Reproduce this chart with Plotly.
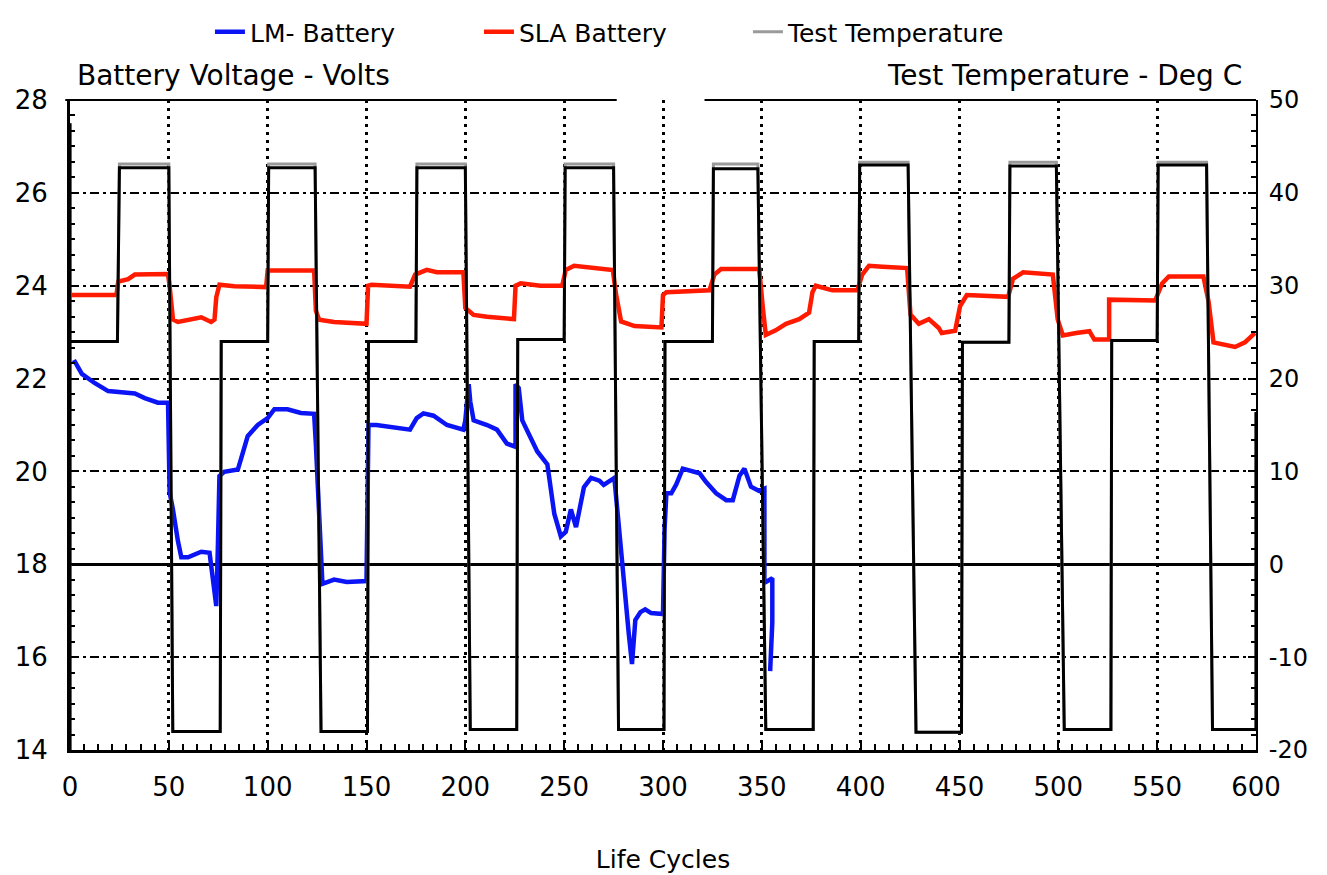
import plotly.graph_objects as go

# ---------------- data ----------------
lm_x = [2, 6, 12.6, 19.3, 32.8, 37.8, 44.5, 49.6, 50.4, 52, 54.6, 56.3, 59.7, 66.4, 70.6, 74, 74.8, 75.6,
        78, 84.9, 86.6, 89.9, 95, 100, 103.4, 110, 116.8, 123.5, 124.4, 126, 127.7, 133.6, 140, 150,
        151, 152.5, 155, 172, 175.4, 178.8, 183.9, 190.7, 199, 200, 201.7, 202.5, 204.2, 211, 216, 221,
        225.4, 225.4, 227, 228.8, 233, 236.4, 241.5, 245, 248.3, 250.8, 253.4, 256, 260, 263.6, 267.8,
        270, 275.4, 278, 280.6, 282.7, 284.3, 286, 288.6, 291, 294, 300, 300.8, 301.7, 304.2, 306.7,
        310, 318.5, 321.8, 326.9, 332, 335.3, 338.7, 341.2, 344.5, 348.7, 351.3, 351.3, 355.3, 355.3, 354.2]
lm_v = [22.4, 22.1, 21.9, 21.73, 21.68, 21.58, 21.48, 21.48, 19.55, 19.2, 18.5, 18.15, 18.15, 18.27, 18.25, 17.1, 18.35, 19.9,
        19.99, 20.04, 20.28, 20.76, 21.0, 21.15, 21.34, 21.34, 21.26, 21.24, 20.57, 18.93, 17.58, 17.67, 17.62, 17.64,
        21.0, 21.0, 21.0, 20.9, 21.15, 21.25, 21.2, 21.0, 20.9, 21.1, 21.88, 21.5, 21.1, 21.0, 20.9, 20.6,
        20.53, 21.88, 21.8, 21.1, 20.7, 20.43, 20.15, 19.09, 18.6, 18.7, 19.18, 18.8, 19.66, 19.86, 19.8,
        19.71, 19.86, 18.6, 17.45, 16.5, 15.85, 16.8, 16.97, 17.03, 16.95, 16.93, 18.76, 19.53, 19.53, 19.72,
        20.06, 19.96, 19.77, 19.53, 19.38, 19.38, 19.91, 20.06, 19.67, 19.58, 19.63, 17.6, 17.7, 16.75, 15.7]

sla_x = [0.8, 23.5, 24.4, 29.4, 32.8, 42.9, 49.6, 50.4, 52.1, 54.6, 59.7, 66.4, 71.4, 73.1, 74, 75.6, 83.2, 93.3, 99.2,
         100, 123.5, 124.4, 126, 133.6, 150, 150.8, 152.5, 172, 174.6, 180.5, 185.6, 199, 200, 204.2, 211, 224.6,
         225.4, 228, 238, 249, 250.8, 255, 265, 274.6, 276.3, 278.8, 285.6, 299.2, 300, 301.7, 323.5, 326, 329.4,
         348.7, 350.4, 352, 357, 362.2, 368.9, 373.9, 375.6, 377.3, 385.7, 398.3, 400.8, 404.2, 411, 423.5, 425.2,
         429.4, 434.5, 439.5, 441, 447.8, 450.3, 453.7, 474.6, 477.1, 482.2, 497.2, 499.7, 502.3, 509, 515.7, 518.2,
         525.7, 525.7, 530.7, 549, 552.5, 555.9, 573.4, 576, 578.5, 589.4, 594.4, 599.4]
sla_v = [23.8, 23.8, 24.09, 24.14, 24.24, 24.25, 24.25, 23.99, 23.27, 23.22, 23.27, 23.32, 23.22, 23.27, 23.75, 24.02, 23.99, 23.97, 23.97,
         24.33, 24.33, 23.46, 23.27, 23.22, 23.18, 24.0, 24.02, 23.98, 24.24, 24.34, 24.29, 24.29, 23.52, 23.37, 23.33, 23.28,
         24.0, 24.05, 24.0, 24.0, 24.34, 24.43, 24.39, 24.34, 23.8, 23.23, 23.13, 23.1, 23.8, 23.86, 23.9, 24.24, 24.36,
         24.36, 23.57, 22.94, 23.04, 23.18, 23.28, 23.42, 23.86, 24.0, 23.9, 23.9, 24.24, 24.43, 24.41, 24.38, 23.38,
         23.18, 23.28, 23.09, 22.98, 23.03, 23.56, 23.8, 23.76, 24.15, 24.29, 24.24, 23.27, 22.93, 22.98, 23.02, 22.84,
         22.84, 23.7, 23.7, 23.68, 24.05, 24.2, 24.2, 23.66, 22.78, 22.68, 22.78, 22.98]

# chamber temperature profile (deg C)
temp_x = [0, 0, 0, 24, 25, 50, 52, 76, 76.5, 100, 100.5, 124, 127, 150.5, 151, 175, 175.5, 200, 202.5, 226,
          226.5, 250, 250.5, 275, 277.5, 300.5, 301, 325, 325.5, 348, 352, 376, 376.5, 399, 399.5, 424, 428,
          451, 451.5, 475, 475.5, 499, 503, 526.6, 527, 550, 550.5, 575, 578, 600, 600]
temp_meas = [-20, 47.5, 24, 24, 42.7, 42.7, -18, -18, 24, 24, 42.7, 42.7, -18, -18, 24, 24, 42.7, 42.7, -17.8, -17.8,
             24.2, 24.2, 42.7, 42.7, -17.8, -17.8, 24, 24, 42.6, 42.6, -17.8, -17.8, 24, 24, 43, 43, -18.1,
             -18.1, 23.9, 23.9, 42.9, 42.9, -17.8, -17.8, 24.1, 24.1, 43, 43, -17.8, -17.8, 16.4]
temp_set = [-20, 47.5, 24, 24, 43.1, 43.1, -18, -18, 24, 24, 43.1, 43.1, -18, -18, 24, 24, 43.1, 43.1, -17.8, -17.8,
            24.2, 24.2, 43.1, 43.1, -17.8, -17.8, 24, 24, 43.1, 43.1, -17.8, -17.8, 24, 24, 43.3, 43.3, -18.1,
            -18.1, 23.9, 23.9, 43.3, 43.3, -17.8, -17.8, 24.1, 24.1, 43.3, 43.3, -17.8, -17.8, 16.4]

x_ticks = [0, 50, 100, 150, 200, 250, 300, 350, 400, 450, 500, 550, 600]
v_ticks = [14, 16, 18, 20, 22, 24, 26, 28]
t_ticks = [-20, -10, 0, 10, 20, 30, 40, 50]

FONT = "DejaVu Sans"

fig = go.Figure()
fig.add_trace(go.Scatter(x=temp_x, y=temp_set, yaxis="y2", mode="lines", name="Test Temperature",
                         line=dict(color="#9a9a9a", width=3), legendrank=3))
fig.add_trace(go.Scatter(x=temp_x, y=temp_meas, yaxis="y2", mode="lines", showlegend=False,
                         line=dict(color="black", width=3)))
fig.add_trace(go.Scatter(x=lm_x, y=lm_v, mode="lines", name="LM- Battery",
                         line=dict(color="#0a14f5", width=4.5), legendrank=1))
fig.add_trace(go.Scatter(x=sla_x, y=sla_v, mode="lines", name="SLA Battery",
                         line=dict(color="#ff1a00", width=4.5), legendrank=2))

fig.update_layout(
    width=1319, height=867,
    margin=dict(l=62, r=71, t=92, b=125, autoexpand=False),
    paper_bgcolor="white", plot_bgcolor="white",
    font=dict(family=FONT, color="black", size=24),
    showlegend=True,
    legend=dict(orientation="h", x=0.118, xanchor="left", y=1.14, yanchor="top",
                font=dict(size=25), entrywidth=224, bgcolor="rgba(0,0,0,0)"),
    xaxis=dict(range=[0, 600], tickmode="array", tickvals=x_ticks, ticktext=[str(v) for v in x_ticks],
               showline=True, linecolor="black", linewidth=3, ticks="inside", ticklen=8, tickwidth=2,
               tickcolor="black", showgrid=True, gridcolor="black", gridwidth=3, griddash="3px,5px",
               zeroline=False, tickfont=dict(size=26), ticklabelstandoff=12, automargin=False,
               minor=dict(ticks="inside", ticklen=6, tickwidth=2, tickcolor="black", dtick=50 / 7, showgrid=False),
               title=dict(text="Life Cycles", font=dict(size=25), standoff=50)),
    yaxis=dict(range=[14, 28], tickmode="array", tickvals=v_ticks, ticktext=[str(v) for v in v_ticks],
               showline=True, linecolor="black", linewidth=3, ticks="inside", ticklen=8, tickwidth=2,
               tickcolor="black", showgrid=True, gridcolor="black", gridwidth=2, griddash="9px,4px,3px,4px",
               zeroline=False, tickfont=dict(size=26), ticklabelstandoff=14, automargin=False,
               minor=dict(ticks="inside", ticklen=5, tickwidth=2, tickcolor="black", dtick=1 / 3, showgrid=False)),
    yaxis2=dict(range=[-20, 50], overlaying="y", side="right", tickmode="array", tickvals=t_ticks,
                ticktext=[str(v) for v in t_ticks], showline=True, linecolor="black", linewidth=2,
                ticks="inside", ticklen=8, tickwidth=2, tickcolor="black", showgrid=False,
                zeroline=True, zerolinecolor="black", zerolinewidth=3, tickfont=dict(size=24),
                ticklabelstandoff=6, automargin=False,
                minor=dict(ticks="inside", ticklen=5, tickwidth=2, tickcolor="black", dtick=10 / 6)),
    shapes=[
        dict(type="line", xref="paper", yref="paper", x0=-0.004, x1=0.461, y0=1, y1=1,
             line=dict(color="black", width=2)),
        dict(type="line", xref="paper", yref="paper", x0=0.535, x1=1.0, y0=1, y1=1,
             line=dict(color="black", width=2)),
    ],
    annotations=[
        dict(text="Battery Voltage - Volts", xref="paper", yref="paper", x=0.004, y=1.037,
             xanchor="left", yanchor="middle", showarrow=False, font=dict(size=28)),
        dict(text="Test Temperature - Deg C", xref="paper", yref="paper", x=0.99, y=1.037,
             xanchor="right", yanchor="middle", showarrow=False, font=dict(size=28)),
    ],
)

fig.write_html("out.html")
